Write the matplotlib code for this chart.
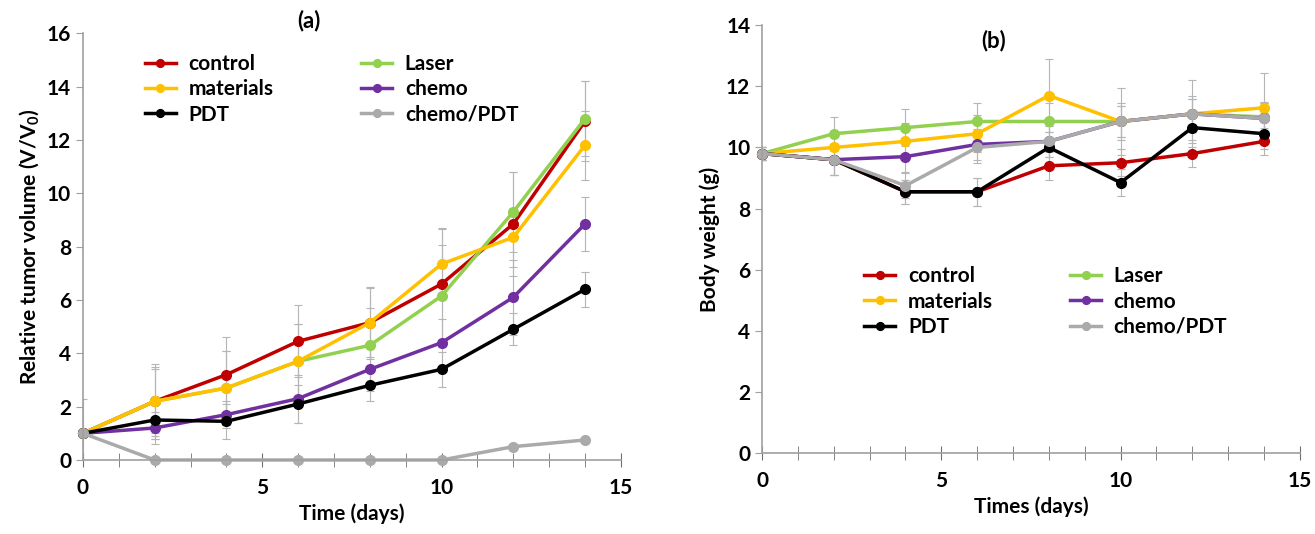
import numpy as np
import matplotlib.pyplot as plt
from matplotlib.ticker import MultipleLocator

plt.rcParams['font.family'] = ['Lato', 'DejaVu Sans']
plt.rcParams['font.weight'] = 'bold'
plt.rcParams['mathtext.default'] = 'regular'

days = [0, 2, 4, 6, 8, 10, 12, 14]
groups = ['control', 'Laser', 'materials', 'chemo', 'PDT', 'chemo/PDT']
colors = ['#c00000', '#92d050', '#ffc000', '#7030a0', '#000000', '#aaaaaa']

# (a) relative tumor volume
vol_control = [1, 2.2, 3.2, 4.45, 5.15, 6.6, 8.85, 12.7]
vol_laser = [1, 2.2, 2.7, 3.7, 4.3, 6.15, 9.3, 12.8]
vol_materials = [1, 2.2, 2.7, 3.7, 5.15, 7.35, 8.35, 11.8]
vol_chemo = [1, 1.2, 1.7, 2.3, 3.4, 4.4, 6.1, 8.85]
vol_pdt = [1, 1.5, 1.45, 2.1, 2.8, 3.4, 4.9, 6.4]
vol_chemopdt = [1, 0, 0, 0, 0, 0, 0.5, 0.75]

err_control = [0, 1.4, 1.4, 1.35, 1.35, 2.1, 1.95, 1.5]
err_laser = [0, 1.3, 1.4, 1.4, 1.4, 1.9, 1.5, 1.4]
err_materials = [0, 1.2, 1.4, 1.4, 1.3, 1.3, 1.1, 1.3]
err_chemo = [0, 0.6, 0.5, 0.9, 0.8, 0.9, 1.4, 1.0]
err_pdt = [0, 0.7, 0.65, 0.7, 0.6, 0.65, 0.6, 0.65]
err_chemopdt = [1.3, 0, 0, 0, 0, 0, 0, 0]

# (b) body weight
bw_control = [9.8, 9.6, 8.55, 8.55, 9.4, 9.5, 9.8, 10.2]
bw_laser = [9.8, 10.45, 10.65, 10.85, 10.85, 10.85, 11.1, 11.0]
bw_materials = [9.8, 10.0, 10.2, 10.45, 11.7, 10.85, 11.1, 11.3]
bw_chemo = [9.8, 9.6, 9.7, 10.1, 10.2, 10.85, 11.1, 10.95]
bw_pdt = [9.8, 9.6, 8.55, 8.55, 10.0, 8.85, 10.65, 10.45]
bw_chemopdt = [9.8, 9.6, 8.75, 10.0, 10.2, 10.85, 11.1, 10.95]

bwerr_control = [0.2, 0.5, 0.4, 0.45, 0.45, 0.45, 0.45, 0.45]
bwerr_laser = [0.2, 0.55, 0.6, 0.6, 0.6, 0.6, 0.6, 0.5]
bwerr_materials = [0.2, 0.5, 0.6, 0.6, 1.2, 1.1, 1.1, 1.15]
bwerr_chemo = [0.2, 0.5, 0.5, 0.5, 0.5, 0.5, 0.5, 0.5]
bwerr_pdt = [0.2, 0.5, 0.4, 0.45, 0.5, 0.45, 0.5, 0.5]
bwerr_chemopdt = [0.2, 0.5, 0.4, 0.5, 0.5, 0.5, 0.5, 0.5]

vol = [vol_control, vol_laser, vol_materials, vol_chemo, vol_pdt, vol_chemopdt]
vol_err = [err_control, err_laser, err_materials, err_chemo, err_pdt, err_chemopdt]
bw = [bw_control, bw_laser, bw_materials, bw_chemo, bw_pdt, bw_chemopdt]
bw_err = [bwerr_control, bwerr_laser, bwerr_materials, bwerr_chemo, bwerr_pdt, bwerr_chemopdt]

FS = 15

fig = plt.figure(figsize=(13.15, 5.34), dpi=100)
ax1 = fig.add_axes([0.0631, 0.1386, 0.409, 0.799])
ax2 = fig.add_axes([0.5795, 0.1517, 0.409, 0.801])


def draw(ax, ys, errs):
    handles = {}
    for name, c, y, e in zip(groups, colors, ys, errs):
        ax.errorbar(days, y, yerr=e, fmt='none', ecolor='#b5b5b5', elinewidth=0.8,
                    capsize=3, capthick=0.8, zorder=1)
        h, = ax.plot(days, y, '-o', color=c, lw=2.5, ms=7, label=name, zorder=2,
                     clip_on=False)
        handles[name] = h
    ax.spines['top'].set_visible(False)
    ax.spines['right'].set_visible(False)
    for s in ['left', 'bottom']:
        ax.spines[s].set_color('#a0a0a0')
        ax.spines[s].set_linewidth(1.2)
    ax.set_xlim(0, 15)
    ax.xaxis.set_major_locator(MultipleLocator(5))
    ax.xaxis.set_minor_locator(MultipleLocator(1))
    ax.yaxis.set_major_locator(MultipleLocator(2))
    ax.tick_params(axis='x', which='both', direction='inout', length=10, color='#707070',
                   labelsize=FS, pad=8)
    ax.tick_params(axis='y', which='both', direction='out', length=5, color='#a0a0a0',
                   labelsize=FS)
    order = ['control', 'materials', 'PDT', 'Laser', 'chemo', 'chemo/PDT']
    return [handles[n] for n in order], order


h1, l1 = draw(ax1, vol, vol_err)
ax1.set_ylim(0, 16)
ax1.set_xlabel('Time (days)', fontsize=FS, fontweight='bold', labelpad=4)
ax1.set_ylabel('Relative tumor volume (V/V$_0$)', fontsize=FS, fontweight='bold')
ax1.text(0.42, 1.005, '(a)', transform=ax1.transAxes, fontsize=FS + 1, fontweight='bold',
         ha='center', va='bottom')
ax1.legend(h1, l1, ncol=2, frameon=False, loc='upper left', bbox_to_anchor=(0.08, 0.995),
           fontsize=FS, handlelength=1.5, handletextpad=0.6, columnspacing=4.2,
           labelspacing=0.25, markerscale=0.8)

h2, l2 = draw(ax2, bw, bw_err)
ax2.set_ylim(0, 14)
ax2.set_xlabel('Times (days)', fontsize=FS, fontweight='bold', labelpad=4)
ax2.set_ylabel('Body weight (g)', fontsize=FS, fontweight='bold')
ax2.text(0.43, 0.94, '(b)', transform=ax2.transAxes, fontsize=FS + 1, fontweight='bold',
         ha='center', va='bottom')
ax2.legend(h2, l2, ncol=2, frameon=False, loc='upper left', bbox_to_anchor=(0.155, 0.48),
           fontsize=FS, handlelength=1.5, handletextpad=0.6, columnspacing=3.7,
           labelspacing=0.25, markerscale=0.8)

fig.savefig('out.png', dpi=100)
